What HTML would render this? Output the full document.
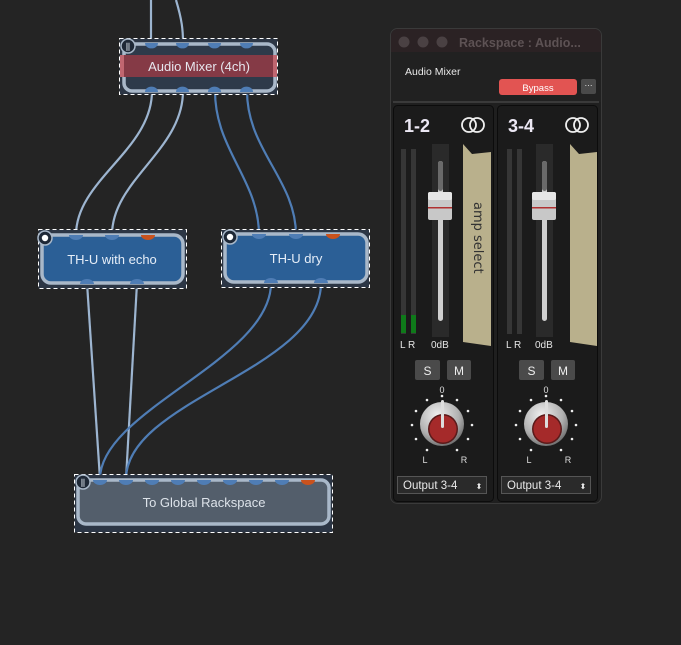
<!DOCTYPE html>
<html><head><meta charset="utf-8"><style>
html,body{margin:0;padding:0;background:#242424;width:681px;height:645px;overflow:hidden}
svg{display:block;font-family:"Liberation Sans",sans-serif}
</style></head><body>
<svg width="681" height="645" viewBox="0 0 681 645" xmlns="http://www.w3.org/2000/svg">
<defs>
<radialGradient id="kg" cx="0.4" cy="0.3" r="0.8"><stop offset="0" stop-color="#f0f0f0"/><stop offset="0.6" stop-color="#b0b0b0"/><stop offset="1" stop-color="#5a5a5a"/></radialGradient>
</defs>
<rect width="681" height="645" fill="#242424"/>
<g fill="none" stroke-width="2.2">
<path d="M151 0 L151 43" stroke="#9db5d0"/>
<path d="M176 0 C182 20 183 30 183 43" stroke="#9db5d0"/>
<path d="M152 91 C152 150 76 180 76 235" stroke="#9db5d0"/>
<path d="M183 91 C183 150 112 180 112 235" stroke="#9db5d0"/>
<path d="M215 91 C215 150 259 180 259 235" stroke="#4f7db5"/>
<path d="M247 91 C247 150 296 180 296 235" stroke="#4f7db5"/>
<path d="M87 283 L100 479" stroke="#9db5d0"/>
<path d="M137 283 L126 479" stroke="#9db5d0"/>
<path d="M271 283 C271 360 100 410 100 479" stroke="#4f7db5"/>
<path d="M321 283 C321 370 126 400 126 479" stroke="#4f7db5"/>
</g>
<!-- Audio mixer node -->
<rect x="119.5" y="38.5" width="158" height="56" fill="#2c3645" stroke="#fff" stroke-dasharray="4 3"/>
<rect x="124" y="44" width="151" height="47" rx="8" fill="#2e3a4a" stroke="#a9b8c9" stroke-width="3.5"/>
<rect x="120" y="55" width="157" height="22" fill="#853a46"/>
<rect x="120" y="55" width="4" height="22" fill="#c06670"/><rect x="273" y="55" width="4" height="22" fill="#c06670"/>
<text x="199" y="71" font-size="13" fill="#e6e6ee" text-anchor="middle">Audio Mixer (4ch)</text>
<circle cx="128" cy="46" r="7" fill="#1e2836" stroke="#a9b8c9" stroke-width="1.5"/>
<text x="128" y="50" font-size="9" fill="#dfe6ef" text-anchor="middle">⫼</text>
<g fill="#4f7db5"><path d="M145 43a6 5 0 0 0 13 0z"/><path d="M176 43a6 5 0 0 0 13 0z"/><path d="M208 43a6 5 0 0 0 13 0z"/><path d="M240 43a6 5 0 0 0 13 0z"/>
<path d="M145 92a6 5 0 0 1 13 0z"/><path d="M176 92a6 5 0 0 1 13 0z"/><path d="M208 92a6 5 0 0 1 13 0z"/><path d="M240 92a6 5 0 0 1 13 0z"/></g>
<!-- TH-U echo -->
<rect x="38.5" y="229.5" width="148" height="59" fill="#2c3645" stroke="#fff" stroke-dasharray="4 3"/>
<rect x="42" y="235" width="141" height="48" rx="9" fill="#2b5f96" stroke="#a9b8c9" stroke-width="3.5"/>
<text x="112" y="264" font-size="13" fill="#e6eef8" text-anchor="middle">TH-U with echo</text>
<circle cx="45" cy="238" r="7" fill="#1e2836" stroke="#a9b8c9" stroke-width="1.5"/><circle cx="45" cy="238" r="3.2" fill="#fff"/>
<!-- TH-U dry -->
<rect x="221.5" y="229.5" width="148" height="58" fill="#2c3645" stroke="#fff" stroke-dasharray="4 3"/>
<rect x="225" y="234" width="142" height="48" rx="9" fill="#2b5f96" stroke="#a9b8c9" stroke-width="3.5"/>
<text x="296" y="263" font-size="13" fill="#e6eef8" text-anchor="middle">TH-U dry</text>
<circle cx="230" cy="237" r="7" fill="#1e2836" stroke="#a9b8c9" stroke-width="1.5"/><circle cx="230" cy="237" r="3.2" fill="#fff"/>
<g fill="#4f7db5"><path d="M69 235a7 5 0 0 0 14 0z"/><path d="M105 235a7 5 0 0 0 14 0z"/><path d="M252 234a7 5 0 0 0 14 0z"/><path d="M289 234a7 5 0 0 0 14 0z"/>
<path d="M80 284a7 5 0 0 1 14 0z"/><path d="M130 284a7 5 0 0 1 14 0z"/><path d="M264 283a7 5 0 0 1 14 0z"/><path d="M314 283a7 5 0 0 1 14 0z"/></g>
<g fill="#c9521d"><path d="M141 235a7 5 0 0 0 14 0z"/><path d="M326 234a7 5 0 0 0 14 0z"/></g>
<!-- Global -->
<rect x="74.5" y="474.5" width="258" height="58" fill="#2c3645" stroke="#fff" stroke-dasharray="4 3"/>
<rect x="78" y="480" width="251" height="44" rx="8" fill="#535e6b" stroke="#a9b8c9" stroke-width="3.5"/>
<text x="204" y="507" font-size="13" fill="#dde3ea" text-anchor="middle">To Global Rackspace</text>
<circle cx="83" cy="482" r="7" fill="#1e2836" stroke="#a9b8c9" stroke-width="1.5"/>
<text x="83" y="486" font-size="9" fill="#dfe6ef" text-anchor="middle">⫼</text>
<g fill="#4f7db5"><path d="M93 480a7 5 0 0 0 14 0z"/><path d="M119 480a7 5 0 0 0 14 0z"/><path d="M145 480a7 5 0 0 0 14 0z"/><path d="M171 480a7 5 0 0 0 14 0z"/><path d="M197 480a7 5 0 0 0 14 0z"/><path d="M223 480a7 5 0 0 0 14 0z"/><path d="M249 480a7 5 0 0 0 14 0z"/><path d="M275 480a7 5 0 0 0 14 0z"/></g>
<path d="M301 480a7 5 0 0 0 14 0z" fill="#c9521d"/>
<!-- window -->
<rect x="390.5" y="28.5" width="211" height="475" rx="7" fill="#1f1f1f" stroke="#3a3a3a"/>
<path d="M391 36a7 7 0 0 1 7-7h196a7 7 0 0 1 7 7v16h-210z" fill="#2b2224"/>
<circle cx="404" cy="42" r="5.5" fill="#4a4143"/><circle cx="423" cy="42" r="5.5" fill="#4a4143"/><circle cx="442" cy="42" r="5.5" fill="#4a4143"/>
<text x="459" y="47" font-size="12.5" font-weight="bold" fill="#5d5254">Rackspace : Audio...</text>
<rect x="391" y="52" width="210" height="50" fill="#212121"/>
<text x="405" y="75" font-size="10.5" fill="#e8e8e8">Audio Mixer</text>
<rect x="499" y="79" width="78" height="16" rx="3" fill="#e25452"/>
<text x="538" y="91" font-size="9.5" fill="#fff" text-anchor="middle">Bypass</text>
<rect x="581" y="79" width="15" height="15" rx="2" fill="#4a4a4a"/>
<text x="588.5" y="88" font-size="8" fill="#fff" text-anchor="middle">···</text>
<rect x="393" y="101" width="206" height="2" fill="#3a3a3a"/>
<g>
<rect x="393.5" y="105.5" width="100" height="396" rx="4" fill="#1b1b1b" stroke="#0c0c0c"/>
<text x="404" y="132" font-size="18" font-weight="bold" fill="#ece8f4">1-2</text>
<circle cx="469" cy="125" r="7" fill="none" stroke="#eee" stroke-width="1.8"/><circle cx="477" cy="125" r="7" fill="none" stroke="#eee" stroke-width="1.8"/>
<rect x="401" y="149" width="5" height="185" fill="#363636"/><rect x="411" y="149" width="5" height="185" fill="#363636"/>
<rect x="401" y="315" width="5" height="18" fill="#0f7a1a"/><rect x="411" y="315" width="5" height="18" fill="#0f7a1a"/>
<rect x="432" y="144" width="17" height="193" fill="#2a2a2a"/>
<rect x="438" y="161" width="5" height="160" rx="2.5" fill="#d0d0d0"/>
<rect x="438" y="161" width="5" height="30" rx="2.5" fill="#6a6a6a"/>
<rect x="428" y="192" width="24" height="28" rx="2" fill="#c8c8c8"/>
<rect x="428" y="192" width="24" height="8" rx="2" fill="#e6e6e6"/>
<rect x="428" y="207" width="24" height="1.5" fill="#b03030"/>
<path d="M463 144 L472 154 L491 152 L491 346 L463 342z" fill="#b9b08c"/>
<text transform="translate(474,202) rotate(90)" font-size="13" fill="#333" font-family="DejaVu Sans,sans-serif">amp select</text>
<text x="400" y="348" font-size="10" fill="#e6e6e6">L R</text>
<text x="431" y="348" font-size="10" fill="#e6e6e6">0dB</text>
<rect x="415" y="360" width="25" height="20" rx="2" fill="#4a4a4a"/><text x="427.5" y="375" font-size="12" fill="#eee" text-anchor="middle">S</text>
<rect x="447" y="360" width="24" height="20" rx="2" fill="#4a4a4a"/><text x="459" y="375" font-size="12" fill="#eee" text-anchor="middle">M</text>
<text x="442" y="393" font-size="9" fill="#ddd" text-anchor="middle">0</text>
<g fill="#eee"><circle cx="442" cy="396" r="1.3"/><circle cx="457" cy="400" r="1.3"/><circle cx="427" cy="400" r="1.3"/><circle cx="468" cy="411" r="1.3"/><circle cx="416" cy="411" r="1.3"/><circle cx="472" cy="425" r="1.3"/><circle cx="412" cy="425" r="1.3"/><circle cx="468" cy="439" r="1.3"/><circle cx="416" cy="439" r="1.3"/><circle cx="457" cy="450" r="1.3"/><circle cx="427" cy="450" r="1.3"/></g>
<circle cx="442" cy="424" r="22" fill="url(#kg)"/>
<circle cx="443" cy="429" r="15" fill="#5a1a1a"/>
<circle cx="443" cy="429" r="13.5" fill="#a52a2a"/>
<rect x="441" y="400" width="3" height="28" rx="1.5" fill="#ddd"/>
<text x="425" y="463" font-size="9" fill="#ddd" text-anchor="middle">L</text>
<text x="464" y="463" font-size="9" fill="#ddd" text-anchor="middle">R</text>
<rect x="397.5" y="476.5" width="89" height="17" fill="#2a2a2a" stroke="#555"/>
<text x="403" y="489" font-size="11.5" fill="#e8e8e8">Output 3-4</text>
<text x="479" y="489" font-size="8" fill="#e8e8e8" text-anchor="middle">⬍</text>
</g>
<g transform="translate(104,0)">
<rect x="393.5" y="105.5" width="100" height="396" rx="4" fill="#1b1b1b" stroke="#0c0c0c"/>
<text x="404" y="132" font-size="18" font-weight="bold" fill="#ece8f4">3-4</text>
<circle cx="469" cy="125" r="7" fill="none" stroke="#eee" stroke-width="1.8"/><circle cx="477" cy="125" r="7" fill="none" stroke="#eee" stroke-width="1.8"/>
<rect x="403" y="149" width="5" height="185" fill="#363636"/><rect x="413" y="149" width="5" height="185" fill="#363636"/>
<rect x="432" y="144" width="17" height="193" fill="#2a2a2a"/>
<rect x="438" y="161" width="5" height="160" rx="2.5" fill="#d0d0d0"/>
<rect x="438" y="161" width="5" height="30" rx="2.5" fill="#6a6a6a"/>
<rect x="428" y="192" width="24" height="28" rx="2" fill="#c8c8c8"/>
<rect x="428" y="192" width="24" height="8" rx="2" fill="#e6e6e6"/>
<rect x="428" y="207" width="24" height="1.5" fill="#b03030"/>
<path d="M466 144 L475 154 L493 152 L493 346 L466 342z" fill="#b9b08c"/>
<text x="402" y="348" font-size="10" fill="#e6e6e6">L R</text>
<text x="431" y="348" font-size="10" fill="#e6e6e6">0dB</text>
<rect x="415" y="360" width="25" height="20" rx="2" fill="#4a4a4a"/><text x="427.5" y="375" font-size="12" fill="#eee" text-anchor="middle">S</text>
<rect x="447" y="360" width="24" height="20" rx="2" fill="#4a4a4a"/><text x="459" y="375" font-size="12" fill="#eee" text-anchor="middle">M</text>
<text x="442" y="393" font-size="9" fill="#ddd" text-anchor="middle">0</text>
<g fill="#eee"><circle cx="442" cy="396" r="1.3"/><circle cx="457" cy="400" r="1.3"/><circle cx="427" cy="400" r="1.3"/><circle cx="468" cy="411" r="1.3"/><circle cx="416" cy="411" r="1.3"/><circle cx="472" cy="425" r="1.3"/><circle cx="412" cy="425" r="1.3"/><circle cx="468" cy="439" r="1.3"/><circle cx="416" cy="439" r="1.3"/><circle cx="457" cy="450" r="1.3"/><circle cx="427" cy="450" r="1.3"/></g>
<circle cx="442" cy="424" r="22" fill="url(#kg)"/>
<circle cx="443" cy="429" r="15" fill="#5a1a1a"/>
<circle cx="443" cy="429" r="13.5" fill="#a52a2a"/>
<rect x="441" y="400" width="3" height="28" rx="1.5" fill="#ddd"/>
<text x="425" y="463" font-size="9" fill="#ddd" text-anchor="middle">L</text>
<text x="464" y="463" font-size="9" fill="#ddd" text-anchor="middle">R</text>
<rect x="397.5" y="476.5" width="89" height="17" fill="#2a2a2a" stroke="#555"/>
<text x="403" y="489" font-size="11.5" fill="#e8e8e8">Output 3-4</text>
<text x="479" y="489" font-size="8" fill="#e8e8e8" text-anchor="middle">⬍</text>
</g>
</svg>
</body></html>
